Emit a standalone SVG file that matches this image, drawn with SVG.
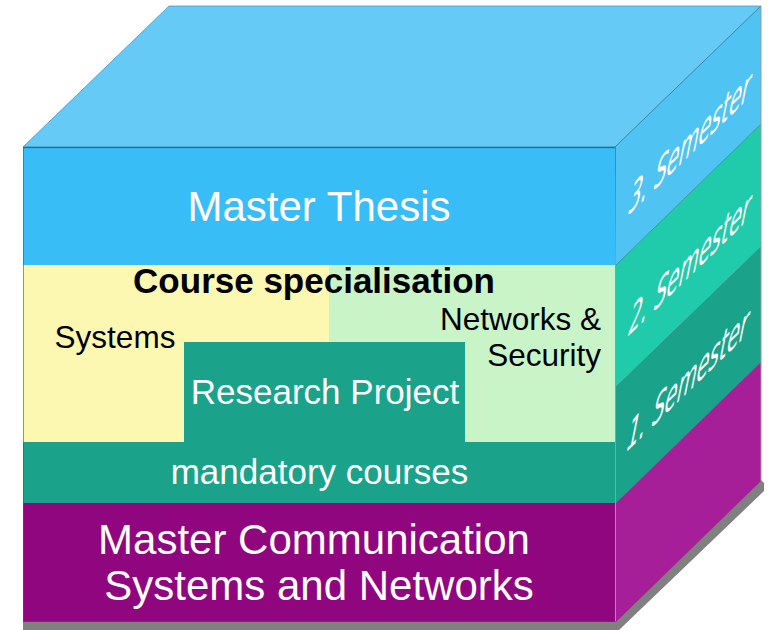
<svg xmlns="http://www.w3.org/2000/svg" width="769" height="630" viewBox="0 0 769 630">
<style>
.lbl{font-family:"Liberation Sans",Arial,sans-serif;}
.w{fill:#ffffff;}
.k{fill:#000000;}
.sem{font-family:"DejaVu Sans",Verdana,sans-serif;font-size:46px;fill:#ffffff;text-anchor:middle;}
.edge{fill:none;stroke:#1d4f6e;stroke-opacity:0.45;stroke-width:1;}
</style>
<rect width="769" height="630" fill="#ffffff"/>
<g id="shadow">
<polygon points="23,621 616,621 761,480 764,483 764,491 619,630 23,630" fill="#808080"/>
</g>
<g id="top-face">
<polygon points="23,147 169,6 761,6 615,147" fill="#66caf6" stroke="#2f7fa8" stroke-opacity="0.6" stroke-width="1"/>
</g>
<g id="semester-3">
<polygon points="615,147 761,6 761,124 616,265" fill="#4fc3f2"/>
<text class="sem" transform="matrix(0.435 -0.423 -0.2 1 687 158)">3. Semester</text>
</g>
<g id="semester-2">
<polygon points="616,265 761,124 761,247 616,387" fill="#1fcbaa"/>
<text class="sem" transform="matrix(0.435 -0.423 -0.2 1 687 279)">2. Semester</text>
</g>
<g id="semester-1">
<polygon points="616,387 761,247 761,362 616,503" fill="#1aa38a"/>
<text class="sem" transform="matrix(0.435 -0.423 -0.2 1 685 395)">1. Semester</text>
</g>
<g id="program-side">
<polygon points="616,503 761,362 761,481 616,622" fill="#a71f98"/>
</g>
<g id="side-edges">
<polyline class="edge" points="615,147 761,6"/>
<polyline class="edge" points="616,265 761,124"/>
<polyline class="edge" points="616,387 761,247"/>
<polyline class="edge" points="616,503 761,362"/>
<polyline points="761,6 761,481" fill="none" stroke="#999" stroke-width="1"/>
</g>
<g id="master-thesis">
<rect x="23" y="147" width="592" height="118" fill="#39bdf6"/>
<line x1="23" y1="147.5" x2="615" y2="147.5" stroke="#2a86b5" stroke-width="1.5"/>
<text class="lbl w" x="319" y="221" font-size="42" text-anchor="middle">Master Thesis</text>
</g>
<g id="course-specialisation">
<rect x="23" y="265" width="306" height="177" fill="#fcf8b1"/>
<rect x="329" y="265" width="286" height="177" fill="#c9f4c7"/>
<text class="lbl k" x="314" y="293" font-size="35" font-weight="bold" text-anchor="middle">Course specialisation</text>
</g>
<g id="systems">
<text class="lbl k" x="115" y="348" font-size="31.5" text-anchor="middle">Systems</text>
</g>
<g id="networks-security">
<text class="lbl k" x="601" y="330" font-size="31.5" text-anchor="end">Networks &amp;</text>
<text class="lbl k" x="601" y="366" font-size="31.5" text-anchor="end">Security</text>
</g>
<g id="research-project">
<rect x="184" y="342" width="281" height="100" fill="#1aa38a"/>
<text class="lbl w" x="325" y="404" font-size="35" text-anchor="middle">Research Project</text>
</g>
<g id="mandatory-courses">
<rect x="23" y="442" width="592" height="61" fill="#1aa38a"/>
<text class="lbl w" x="319.5" y="484" font-size="35" text-anchor="middle">mandatory courses</text>
</g>
<g id="master-program">
<rect x="23" y="503" width="592" height="119" fill="#8f067e"/>
<text class="lbl w" x="314" y="554" font-size="42" text-anchor="middle">Master Communication</text>
<text class="lbl w" x="319" y="600" font-size="42" text-anchor="middle">Systems and Networks</text>
</g>
<g id="front-outline">
<rect x="23.5" y="147.5" width="592" height="474" fill="none" stroke="#555" stroke-opacity="0.6" stroke-width="1"/>
</g>
</svg>
